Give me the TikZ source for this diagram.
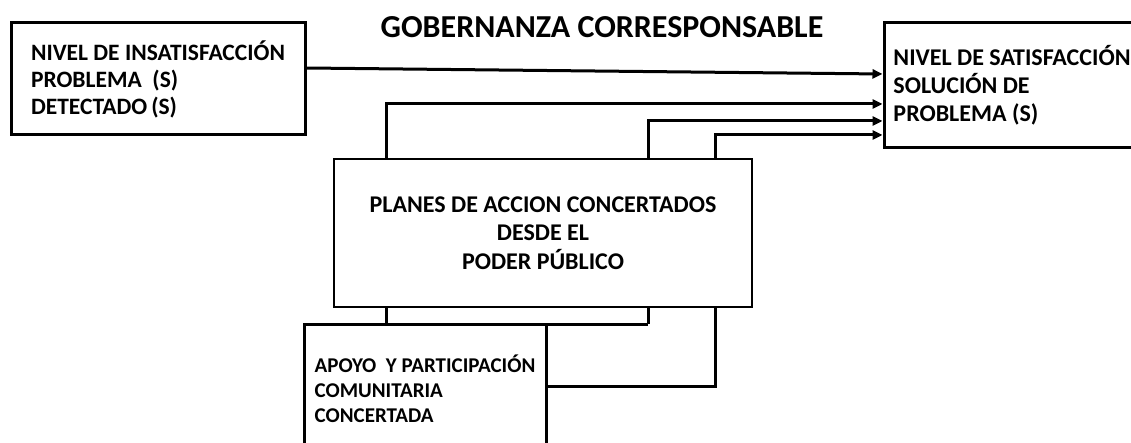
\documentclass[tikz,border=0pt]{standalone}
\usepackage{fontspec}
\setmainfont{Carlito}
\usetikzlibrary{positioning, arrows.meta, backgrounds}

\begin{document}
\begin{tikzpicture}[x=1pt, y=-1pt,
  box/.style={draw, line width=3pt, fill=white, align=left, font=\bfseries},
  link/.style={line width=3pt},
  into/.style={link, -{Triangle[length=10pt,width=9pt]}}]

  \useasboundingbox (0,0) rectangle (1131,443);

  \node[font=\bfseries\fontsize{32}{36}\selectfont] (title) at (602,27) {GOBERNANZA CORRESPONSABLE};

  \node[box, minimum width=294pt, minimum height=112pt,
        font=\bfseries\fontsize{23.5}{27}\selectfont] (insat) at (158,79)
        {NIVEL DE INSATISFACCIÓN\\PROBLEMA~~(S)\\DETECTADO\,(S)};
  \node[box, minimum width=256pt, minimum height=125pt,
        font=\bfseries\fontsize{24}{28}\selectfont] (satis) at (1012,85.5)
        {NIVEL DE SATISFACCIÓN\\SOLUCIÓN DE\\PROBLEMA (S)};
  \node[box, line width=1.3pt, minimum width=418pt, minimum height=148pt, align=center,
        font=\bfseries\fontsize{24}{28.5}\selectfont] (planes) at (543,233)
        {PLANES DE ACCION CONCERTADOS\\DESDE EL\\PODER PÚBLICO};
  \node[box, minimum width=242pt, minimum height=130pt,
        font=\bfseries\fontsize{21}{25}\selectfont] (apoyo) at (425,389)
        {APOYO~~Y PARTICIPACIÓN\\COMUNITARIA\\CONCERTADA};

  % lines run behind the white boxes
  \begin{scope}[on background layer]
    \coordinate (a1) at (386,324);
    \coordinate (a2) at (648,324);
    \coordinate (b1) at (715,135);
    \draw[into] (insat.east |- 0,68) -- (satis.west |- 0,74);
    \draw[into] (a1) |- (satis.west |- 0,104);
    \draw[link] (a1) -- (a2);
    \draw[into] (a2) |- (satis.west |- 0,121);
    \draw[into] (apoyo.east |- 0,386) -| (b1) -- (satis.west |- b1);
  \end{scope}
\end{tikzpicture}
\end{document}
